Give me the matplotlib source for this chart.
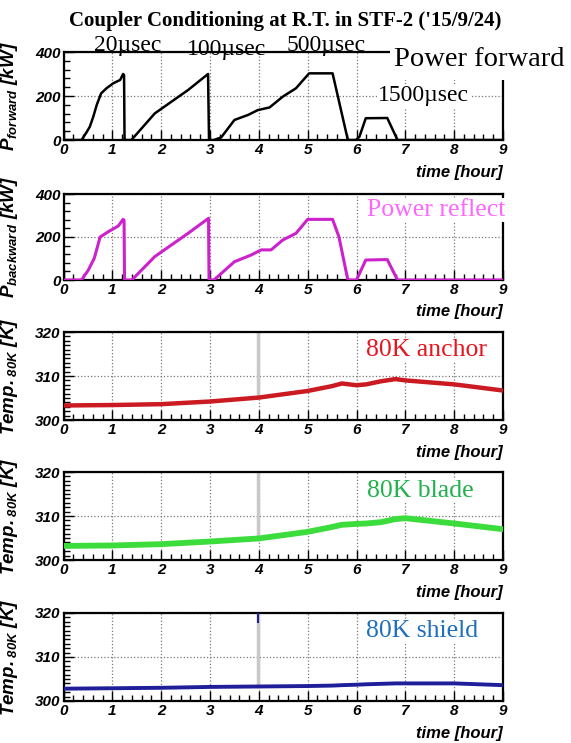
import numpy as np
import matplotlib.pyplot as plt
from matplotlib.ticker import MultipleLocator
from matplotlib.patches import Rectangle

plt.rcParams['mathtext.fontset'] = 'custom'
plt.rcParams['mathtext.it'] = 'Liberation Sans:italic:bold'
plt.rcParams['mathtext.rm'] = 'Liberation Sans:italic:bold'
plt.rcParams['mathtext.bf'] = 'Liberation Sans:italic:bold'

# Forward power (kW) vs time (hour)
fwd_t = [0, 0.37, 0.48, 0.54, 0.61, 0.68, 0.77, 0.88, 1.02, 1.16, 1.22, 1.24, 1.25,
         1.39, 1.87, 2.55, 2.96, 2.98,
         3.08, 3.23, 3.50, 3.78, 3.98, 4.22, 4.49, 4.76, 5.03, 5.51, 5.82, 5.85,
         5.99, 6.06, 6.19, 6.63, 6.84, 9.0]
fwd_p = [0, 0, 38, 61, 106, 159, 212, 235, 258, 273, 300, 295, 0,
         0, 121, 227, 300, 0,
         0, 12, 91, 114, 136, 148, 197, 235, 303, 303, 3, 0,
         0, 15, 99, 100, 0, 0]

# Reflected power (kW)
ref_t = [0, 0.37, 0.51, 0.63, 0.75, 0.92, 1.12, 1.22, 1.24, 1.25,
         1.40, 1.87, 2.55, 2.97, 2.98,
         3.08, 3.50, 3.84, 4.05, 4.25, 4.49, 4.76, 5.00, 5.51, 5.64, 5.82, 5.85,
         6.00, 6.19, 6.63, 6.84, 9.0]
ref_p = [0, 0, 47, 101, 200, 225, 251, 282, 278, 0,
         0, 109, 217, 287, 0,
         0, 85, 116, 140, 140, 186, 217, 282, 282, 201, 3, 0,
         0, 93, 95, 0, 0]

# Temperatures (K)
temp_t = [0, 1, 2, 3, 4, 5, 5.5, 5.7, 6.0, 6.2, 6.5, 6.8, 7, 8, 9]
anchor = [303.3, 303.4, 303.6, 304.2, 305.1, 306.6, 307.7, 308.3, 307.9, 308.1, 308.8, 309.3, 309.0, 308.1, 306.7]
blade = [303.2, 303.3, 303.6, 304.2, 304.9, 306.4, 307.5, 308.0, 308.2, 308.3, 308.6, 309.3, 309.5, 308.3, 307.0]
shield = [302.8, 302.9, 303.0, 303.2, 303.3, 303.4, 303.5, 303.6, 303.7, 303.8, 303.9, 304.0, 304.0, 304.0, 303.6]
spike_t = 3.98

fig = plt.figure(figsize=(5.71, 7.43), dpi=100)

left, width = 63.5 / 571, 439.5 / 571
boxes = [(52, 140), (194, 280), (332, 420), (472, 560), (613, 701)]
axes = [fig.add_axes([left, 1 - b / 743, width, (b - t) / 743]) for t, b in boxes]

tick_font = dict(family='Liberation Sans', weight='bold', style='italic', size=11)

def style(ax, power):
    ax.set_xlim(0, 9)
    ax.xaxis.set_major_locator(MultipleLocator(1))
    ax.xaxis.set_minor_locator(MultipleLocator(0.2))
    if power:
        ax.set_ylim(0, 400)
        ax.yaxis.set_major_locator(MultipleLocator(200))
        ax.yaxis.set_minor_locator(MultipleLocator(40))
    else:
        ax.set_ylim(300, 320)
        ax.yaxis.set_major_locator(MultipleLocator(10))
        ax.yaxis.set_minor_locator(MultipleLocator(1))
    ax.grid(True, which='major', ls=':', color='#777777', lw=0.9)
    ax.tick_params(which='both', direction='in', top=False, right=False, width=1.0)
    ax.tick_params(which='major', length=7, pad=2)
    ax.tick_params(which='minor', length=4)
    for lab in ax.get_xticklabels() + ax.get_yticklabels():
        lab.set_fontproperties(tick_font)
    for s in ax.spines.values():
        s.set_linewidth(1.6)
    ax.text(1.0, -0.37, 'time [hour]', transform=ax.transAxes, ha='right', va='center',
            family='Liberation Sans', weight='bold', style='italic', size=12)
    ax.yaxis.set_label_coords(-0.1, 0.5)

ax1, ax2, ax3, ax4, ax5 = axes
for ax in axes[:2]:
    style(ax, True)
for ax in axes[2:]:
    style(ax, False)

ax1.plot(fwd_t, fwd_p, color='black', lw=1.8, zorder=3)
ax2.plot(ref_t, ref_p, color='#cc22cc', lw=2.2, zorder=3)
ax1.set_ylabel(r'$P_{forward}\ [kW]$', fontsize=13.5)
ax2.set_ylabel(r'$P_{backward}\ [kW]$', fontsize=13.5)

for ax, vals, col, lw in [(ax3, anchor, '#cc1a22', 3.2), (ax4, blade, '#3ddc3d', 4.2),
                          (ax5, shield, '#1f1f9a', 2.8)]:
    v_spike = np.interp(spike_t, temp_t, vals)
    ax.plot([spike_t, spike_t], [v_spike, 320], color='#c8c8c8', lw=2.5, zorder=2)
    ax.plot(temp_t, vals, color=col, lw=lw, zorder=3)
    ax.set_ylabel(r'$Temp._{80K}\ [K]$', fontsize=13.5)
ax5.plot([spike_t, spike_t], [318, 320], color='#1f1f9a', lw=1.5, zorder=3)

fig.text(0.499, 1 - 21 / 743, "Coupler Conditioning at R.T. in STF-2 ('15/9/24)",
         ha='center', va='center', family='Liberation Serif', weight='bold', size=15)

# annotation texts pasted over the chart
fig.patches.append(Rectangle((390 / 571, 1 - 80 / 743), 181 / 571, 40 / 743,
                             transform=fig.transFigure, facecolor='white', edgecolor='none', zorder=5))
serif = dict(family='Liberation Serif', size=17, zorder=6)
big = dict(family='Liberation Serif', size=18.5, zorder=6)
fig.text(128 / 571, 1 - 51 / 743, '20µsec', ha='center', va='baseline', **serif)
fig.text(227 / 571, 1 - 55 / 743, '100µsec', ha='center', va='baseline', **serif)
fig.text(326 / 571, 1 - 51 / 743, '500µsec', ha='center', va='baseline', **serif)
fig.text(394 / 571, 1 - 60 / 743, 'Power forward', ha='left', va='center',
         family='Liberation Serif', size=20.5, zorder=6)
box = dict(facecolor='white', edgecolor='none', pad=1)
fig.text(378 / 571, 1 - 96 / 743, '1500µsec', ha='left', va='center', bbox=box, **serif)
fig.text(367 / 571, 1 - 210 / 743, 'Power reflect', ha='left', va='center', color='#ff66ff', bbox=box, **big)
fig.text(366 / 571, 1 - 350 / 743, '80K anchor', ha='left', va='center', color='#e8141e', bbox=box, **big)
fig.text(367 / 571, 1 - 491 / 743, '80K blade', ha='left', va='center', color='#22b14c', bbox=box, **big)
fig.text(366 / 571, 1 - 631 / 743, '80K shield', ha='left', va='center', color='#1f6fbf', bbox=box, **big)

fig.savefig('out.png', dpi=100)
